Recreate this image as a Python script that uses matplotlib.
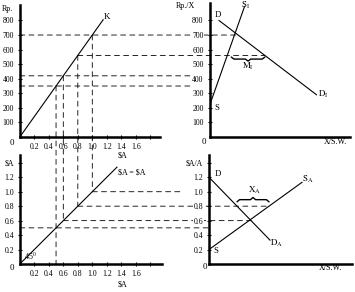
import numpy as np
import matplotlib
matplotlib.use('Agg')
import matplotlib.pyplot as plt
from matplotlib.patches import ConnectionPatch

plt.rcParams['font.family'] = ['Liberation Serif', 'DejaVu Serif']
plt.rcParams['mathtext.fontset'] = 'stix'

# --- data ---
k_x = [0, 1.15]              # K line, Rp. vs $A
k_y = [0, 805]
diag_x = [0, 1.34]           # $A = $A (45 degree)
diag_y = [0, 1.34]
si_x = [0, 3.5]              # S_I supply (top right)
si_y = [215, 895]
di_x = [0.95, 10.7]          # D_I demand (top right)
di_y = [800, 290]
sa_x = [0, 9.3]              # S_A supply (bottom right)
sa_y = [0.2, 1.13]
da_x = [0, 6.1]              # D_A demand (bottom right)
da_y = [1.2, 0.33]
dollar_vals = [0.5, 0.6, 0.8, 1.0]

rp_ticks = [100, 200, 300, 400, 500, 600, 700, 800]
x_ticks = [0.2, 0.4, 0.6, 0.8, 1.0, 1.2, 1.4, 1.6, 1.8]
x_labels = ['0.2', '0.4', '0.6', '0.8', '1.0', '1.2', '1.4', '1.6', '']
a_ticks = [0.2, 0.4, 0.6, 0.8, 1.0, 1.2, 1.4]


def x_at(xs, ys, y):
    return xs[0] + (y - ys[0]) * (xs[1] - xs[0]) / (ys[1] - ys[0])


W, H = 355, 292
fig = plt.figure(figsize=(W / 100, H / 100), dpi=100)


def add_ax(l, r, t, b):
    ax = fig.add_axes([l / W, 1 - b / H, (r - l) / W, (b - t) / H])
    ax.patch.set_visible(False)
    for s in ('top', 'right'):
        ax.spines[s].set_visible(False)
    for s in ('left', 'bottom'):
        ax.spines[s].set_linewidth(1.8)
    ax.tick_params(direction='inout', length=3.5, width=0.8, labelsize=5.6, pad=2.5)
    return ax


ax1 = add_ax(19.8, 160, 5, 137)
ax2 = add_ax(209.5, 350, 3, 137)
ax3 = add_ax(19.8, 161.7, 155, 264)
ax4 = add_ax(209, 352, 155, 264)

ax1.set_xlim(0, 1.934); ax1.set_ylim(0, 906)
ax2.set_xlim(0, 14.05); ax2.set_ylim(0, 920)
ax3.set_xlim(0, 1.957); ax3.set_ylim(0, 1.508)
ax4.set_xlim(0, 14.3); ax4.set_ylim(0, 1.508)

ax1.set_xticks(x_ticks, x_labels)
ax1.set_yticks(rp_ticks)
ax3.set_xticks(x_ticks, x_labels)
ax3.set_yticks(a_ticks, ['0.2', '0.4', '0.6', '0.8', '1.0', '1.2', r'\$A'])
wb = dict(facecolor='white', edgecolor='none', pad=0.4)
ax2.set_xticks([])
ax2.set_yticks(rp_ticks, [str(v) for v in rp_ticks], bbox=wb)
ax4.set_xticks([])
ax4.set_yticks(a_ticks, ['0.2', '0.4', '0.6', '0.8', '1.0', '1.2', r'\$A/A'], bbox=wb)

line_kw = dict(color='black', lw=0.8)
ax1.plot(k_x, k_y, **line_kw)
ax3.plot(diag_x, diag_y, **line_kw)
ax2.plot(si_x, si_y, **line_kw)
ax2.plot(di_x, di_y, **line_kw)
ax4.plot(sa_x, sa_y, **line_kw)
ax4.plot(da_x, da_y, **line_kw)

dash = dict(color='black', lw=0.6, linestyle=(0, (6, 5)), clip_on=False)


def connect(owner, a, pa, b, pb):
    con = ConnectionPatch(pa, pb, coordsA=a.transData, coordsB=b.transData, **dash)
    owner.add_artist(con)


rp_vals = [x_at(k_x, k_y, 0) + v * (k_y[1] / k_x[1]) for v in dollar_vals]

# verticals from K line down to the 45 degree line
for v, rp in zip(dollar_vals, rp_vals):
    end = 0 if v == 0.5 else v
    connect(ax1, ax1, (v, rp), ax3, (v, end))

# horizontals, top
for v, rp in zip(dollar_vals, rp_vals):
    start = 0.8 if v == 0.8 else 0
    if v in (0.8, 1.0):
        end = x_at(di_x, di_y, rp)
    else:
        end = -1.95
    connect(ax1, ax1, (start, rp), ax2, (end, rp))

# horizontals, bottom
for v in dollar_vals:
    start = 0 if v == 0.5 else v
    if v == 0.5:
        end = 0
    elif v == 0.6:
        end = x_at(da_x, da_y, v)
    elif v == 0.8:
        end = x_at(sa_x, sa_y, v)
    else:
        end = -2.7
    connect(ax3, ax3, (start, v), ax4, (end, v))


def brace(ax, x0, x1, y, d):
    xm = (x0 + x1) / 2
    e = (x1 - x0) * 0.08
    xs = [x0, x0 + e, xm - e, xm, xm + e, x1 - e, x1]
    ys = [y + d, y, y, y - d, y, y, y + d]
    ax.plot(xs, ys, color='black', lw=1.0, solid_capstyle='round')


m_lo = x_at(si_x, si_y, rp_vals[2])
m_hi = x_at(di_x, di_y, rp_vals[2])
brace(ax2, m_lo + 0.4, m_hi, 535, 14)
xa_lo = x_at(da_x, da_y, 0.8)
xa_hi = x_at(sa_x, sa_y, 0.8)
brace(ax4, xa_lo, xa_hi, 0.89, -0.03)

fs = 5.8
# top left
ax1.text(-0.17, 876, 'Rp.', fontsize=fs, ha='center', va='center')
ax1.text(-0.11, -40, '0', fontsize=6.5, ha='center', va='center')
ax1.text(1.2, 824, 'K', fontsize=6.5, ha='center', va='center')
ax1.text(1.41, -125, r'\$A', fontsize=fs, ha='center', va='center')
# top right
ax2.text(-2.45, 899, 'Rp./X', fontsize=fs, ha='center', va='center')
ax2.text(0.85, 837, 'D', fontsize=6.3, ha='center', va='center')
ax2.text(0.72, 197, 'S', fontsize=6.3, ha='center', va='center')
ax2.text(3.65, 905, r'$\mathrm{S_I}$', fontsize=6.5, ha='center', va='center')
ax2.text(11.35, 295, r'$\mathrm{D_I}$', fontsize=6.5, ha='center', va='center')
ax2.text(3.85, 487, r'$\mathrm{M_I}$', fontsize=6.3, ha='center', va='center')
ax2.text(-0.55, -34, '0', fontsize=6.5, ha='center', va='center')
ax2.text(12.55, -32, 'X/S.W.', fontsize=fs, ha='center', va='center')
# bottom left
ax3.text(-0.11, -0.055, '0', fontsize=6.5, ha='center', va='center')
ax3.text(0.15, 0.1, '45$^0$', fontsize=fs, ha='center', va='center')
ax3.text(1.355, 1.27, r'\$A = \$A', fontsize=fs, ha='left', va='center')
ax3.text(1.41, -0.29, r'\$A', fontsize=fs, ha='center', va='center')
# bottom right
ax4.text(0.93, 1.24, 'D', fontsize=6.3, ha='center', va='center')
ax4.text(0.7, 0.18, 'S', fontsize=6.3, ha='center', va='center')
ax4.text(9.93, 1.17, r'$\mathrm{S_A}$', fontsize=6.5, ha='center', va='center')
ax4.text(6.77, 0.29, r'$\mathrm{D_A}$', fontsize=6.5, ha='center', va='center')
ax4.text(4.6, 1.02, r'$\mathrm{X_A}$', fontsize=6.5, ha='center', va='center')
ax4.text(-0.4, -0.04, '0', fontsize=6.5, ha='center', va='center')
ax4.text(12.1, -0.06, 'X/S.W.', fontsize=fs, ha='center', va='center')

fig.savefig('out.png', dpi=100)
